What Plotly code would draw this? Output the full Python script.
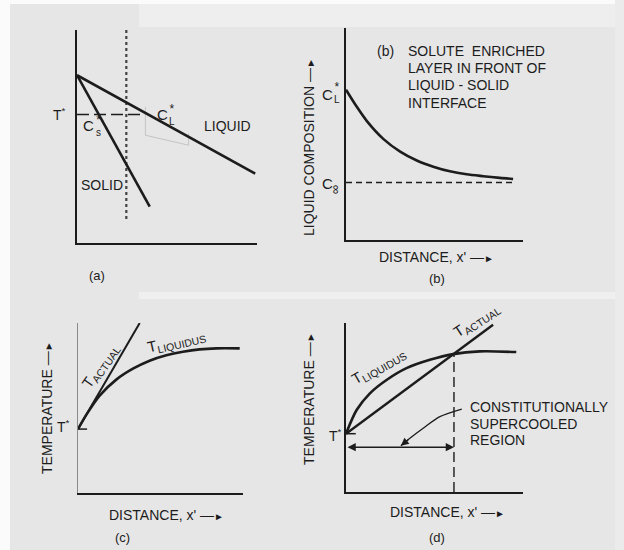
import plotly.graph_objects as go

W, H = 624, 550
INK = "#1c1c1c"
FONT = "Liberation Sans, Arial, sans-serif"

# ---------------- data (arbitrary units, 0-10 on each panel) ----------------
# (a) phase diagram
a_liquidus_x = [0.0, 9.90]
a_liquidus_y = [7.88, 3.26]
a_solidus_x = [0.0, 4.04]
a_solidus_y = [7.88, 1.71]
a_interface_x = [2.74, 2.74]
a_interface_y = [10.0, 1.07]
a_tstar_x = [0.0, 3.70]
a_tstar_y = [6.03, 6.03]
a_scan_x = [3.80, 3.80, 6.20, 6.20]
a_scan_y = [6.39, 5.06, 4.59, 5.14]

# (b) liquid composition vs distance
b_dist = [0.0, 0.62, 1.18, 2.12, 3.06, 4.00, 4.93, 5.87, 6.81, 7.75, 8.69, 9.44]
b_comp = [7.09, 6.27, 5.61, 4.76, 4.17, 3.75, 3.46, 3.24, 3.10, 3.01, 2.93, 2.88]
b_cinf_x = [0.0, 9.44]
b_cinf_y = [2.71, 2.71]

# (c) stable interface
c_actual_x = [0.0, 3.74]
c_actual_y = [3.76, 10.0]
c_liq_x = [0.0, 0.51, 1.31, 2.32, 3.33, 4.34, 5.35, 6.36, 7.37, 8.38, 9.80]
c_liq_y = [3.76, 4.61, 5.73, 6.67, 7.31, 7.78, 8.10, 8.31, 8.45, 8.51, 8.51]
c_tick_x = [0.0, 0.55]
c_tick_y = [3.76, 3.76]

# (d) constitutional supercooling
d_actual_x = [0.0, 8.31]
d_actual_y = [3.45, 9.90]
d_liq_x = [0.0, 0.60, 1.35, 2.29, 3.42, 4.74, 6.05, 7.56, 9.62]
d_liq_y = [3.45, 4.85, 5.84, 6.63, 7.33, 7.82, 8.16, 8.32, 8.28]
d_limit_x = [6.10, 6.10]
d_limit_y = [0.0, 8.15]
d_tick_x = [0.0, 0.55]
d_tick_y = [3.45, 3.45]
d_region_x = [0.0, 6.10]
d_region_y = [2.65, 2.65]
d_pointer_x = [6.54, 5.30, 4.36, 3.61, 3.10]
d_pointer_y = [4.91, 4.46, 3.77, 3.18, 2.74]

# ---------------- layout helpers ----------------
def px(x):
    return x / W

def py(y):
    return 1 - y / H

# panel axis boxes in pixels: (left, right, top, bottom)
boxes = {
    "": (77, 257, 30, 243),
    "2": (346, 523, 28, 240),
    "3": (78, 243, 323, 493),
    "4": (346, 523, 323, 492),
}

fig = go.Figure()

def line(x, y, ax, width=2.6, dash="solid", color=INK, shape="spline"):
    fig.add_trace(go.Scatter(
        x=x, y=y, xaxis="x" + ax, yaxis="y" + ax, mode="lines",
        line=dict(color=color, width=width, dash=dash, shape=shape, smoothing=0.8),
        hoverinfo="skip", showlegend=False))

# (a)
line(a_scan_x, a_scan_y, "", width=1, color="#c4c4c4", shape="linear")
line(a_interface_x, a_interface_y, "", width=2.2, dash="dot", color="#444444", shape="linear")
line(a_tstar_x, a_tstar_y, "", width=1.6, dash="12px,5px", shape="linear")
line(a_liquidus_x, a_liquidus_y, "", width=2.6, shape="linear")
line(a_solidus_x, a_solidus_y, "", width=2.6, shape="linear")
# (b)
line(b_cinf_x, b_cinf_y, "2", width=1.5, dash="6px,4px", shape="linear")
line(b_dist, b_comp, "2", width=2.6)
# (c)
line(c_tick_x, c_tick_y, "3", width=1.5, shape="linear")
line(c_actual_x, c_actual_y, "3", width=2.0, shape="linear")
line(c_liq_x, c_liq_y, "3", width=2.6)
# (d)
line(d_tick_x, d_tick_y, "4", width=1.5, shape="linear")
line(d_limit_x, d_limit_y, "4", width=1.4, dash="10px,5px", shape="linear")
line(d_actual_x, d_actual_y, "4", width=2.4, shape="linear")
line(d_liq_x, d_liq_y, "4", width=2.6)
line(d_pointer_x, d_pointer_y, "4", width=1.3)

layout_axes = {}
for k, (l, r, t, b) in boxes.items():
    lc = "#8a8a8a" if k == "3" else INK
    lw = 1.0 if k == "3" else 2.0
    layout_axes["xaxis" + k] = dict(domain=[px(l), px(r)], range=[0, 10], anchor="y" + k,
                                    showline=True, linecolor=INK, linewidth=2.0,
                                    showgrid=False, zeroline=False, showticklabels=False, ticks="",
                                    fixedrange=True)
    layout_axes["yaxis" + k] = dict(domain=[py(b), py(t)], range=[0, 10], anchor="x" + k,
                                    showline=True, linecolor=lc, linewidth=lw,
                                    showgrid=False, zeroline=False, showticklabels=False, ticks="",
                                    fixedrange=True)

ann = []

def text(t, x, y, size=14, angle=0, xa="center", ya="middle", pad=1):
    ann.append(dict(text=t, x=px(x), y=py(y), xref="paper", yref="paper", showarrow=False,
                    textangle=angle, xanchor=xa, yanchor=ya, borderpad=pad,
                    font=dict(family=FONT, size=size, color=INK)))

ARROW = "—<span style='font-size:10px'>►</span>"
STACK_L = "<span style='font-size:12px'>*</span><br><span style='font-size:10px'>L</span>"
STACK_S = "<span style='font-size:12px'>*</span><br><span style='font-size:10px'>s</span>"

# (a) labels
text("T<sup>*</sup>", 59, 114, 14)
text("C", 162, 114, 15)
text(STACK_L, 172, 114, 9, pad=0)
text("C", 88, 125, 15)
text(STACK_S, 98, 125, 9, pad=0)
text("LIQUID", 227, 126, 14)
text("SOLID", 102, 185, 14)
text("(a)", 97, 275, 13)

# (b) labels
text("LIQUID COMPOSITION " + ARROW, 309, 147, 14, angle=-90)
text("C", 327, 94, 15)
text(STACK_L, 337, 93, 9, pad=0)
text("C", 327, 183, 15)
text("∞", 337, 189, 13, angle=90)
text("(b)", 375, 51, 14, xa="left")
text("SOLUTE  ENRICHED", 406, 51, 14, xa="left")
text("LAYER IN FRONT OF", 406, 68, 14, xa="left")
text("LIQUID - SOLID", 406, 85, 14, xa="left")
text("INTERFACE", 406, 103, 14, xa="left")
text("DISTANCE, x' " + ARROW, 436, 257, 14)
text("(b)", 437, 278, 13)

# (c) labels
text("TEMPERATURE " + ARROW, 47, 408, 14, angle=-90)
text("T<sup>*</sup>", 63, 426, 14)
text("T<sub>ACTUAL</sub>", 100, 366, 15, angle=-55)
text("T<sub>LIQUIDUS</sub>", 176, 341, 15, angle=-13)
text("DISTANCE, x' " + ARROW, 166, 515, 14)
text("(c)", 122, 537, 13)

# (d) labels
text("TEMPERATURE " + ARROW, 309, 399, 14, angle=-90)
text("T<sup>*</sup>", 335, 435, 14)
text("T<sub>LIQUIDUS</sub>", 378, 366, 15, angle=-30)
text("T<sub>ACTUAL</sub>", 476, 320, 15, angle=-33)
text("CONSTITUTIONALLY", 468, 407, 14, xa="left")
text("SUPERCOOLED", 468, 424, 14, xa="left")
text("REGION", 468, 440, 14, xa="left")
text("DISTANCE, x' " + ARROW, 447, 512, 14)
text("(d)", 437, 537, 13)

# arrows in (d)
ann.append(dict(x=d_region_x[1], y=d_region_y[1], ax=d_region_x[0], ay=d_region_y[0],
                xref="x4", yref="y4", axref="x4", ayref="y4", text="", showarrow=True,
                arrowhead=2, arrowside="end+start", arrowsize=1.1, arrowwidth=1.5,
                arrowcolor=INK, standoff=0, startstandoff=0))
ann.append(dict(x=d_pointer_x[-1], y=d_pointer_y[-1], ax=d_pointer_x[-2], ay=d_pointer_y[-2],
                xref="x4", yref="y4", axref="x4", ayref="y4", text="", showarrow=True,
                arrowhead=2, arrowsize=1.2, arrowwidth=1.3, arrowcolor=INK, standoff=0))

shapes = [
    dict(type="rect", xref="paper", yref="paper", x0=0, x1=px(10), y0=0, y1=1,
         fillcolor="#fbfbfb", line_width=0, layer="below"),
    dict(type="rect", xref="paper", yref="paper", x0=0, x1=1, y0=py(4), y1=1,
         fillcolor="#fbfbfb", line_width=0, layer="below"),
    dict(type="rect", xref="paper", yref="paper", x0=px(139), x1=px(615), y0=py(27), y1=py(4),
         fillcolor="#eeeeee", line_width=0, layer="below"),
    dict(type="rect", xref="paper", yref="paper", x0=px(139), x1=px(615), y0=py(299), y1=py(292),
         fillcolor="#efefef", line_width=0, layer="below"),
    dict(type="rect", xref="paper", yref="paper", x0=px(615), x1=1, y0=0, y1=1,
         fillcolor="#ebebeb", line_width=0, layer="below"),
]

fig.update_layout(
    width=W, height=H, margin=dict(l=0, r=0, t=0, b=0),
    paper_bgcolor="#e6e6e6", plot_bgcolor="rgba(0,0,0,0)",
    showlegend=False, annotations=ann, shapes=shapes, **layout_axes)

fig.write_html("out.html")
